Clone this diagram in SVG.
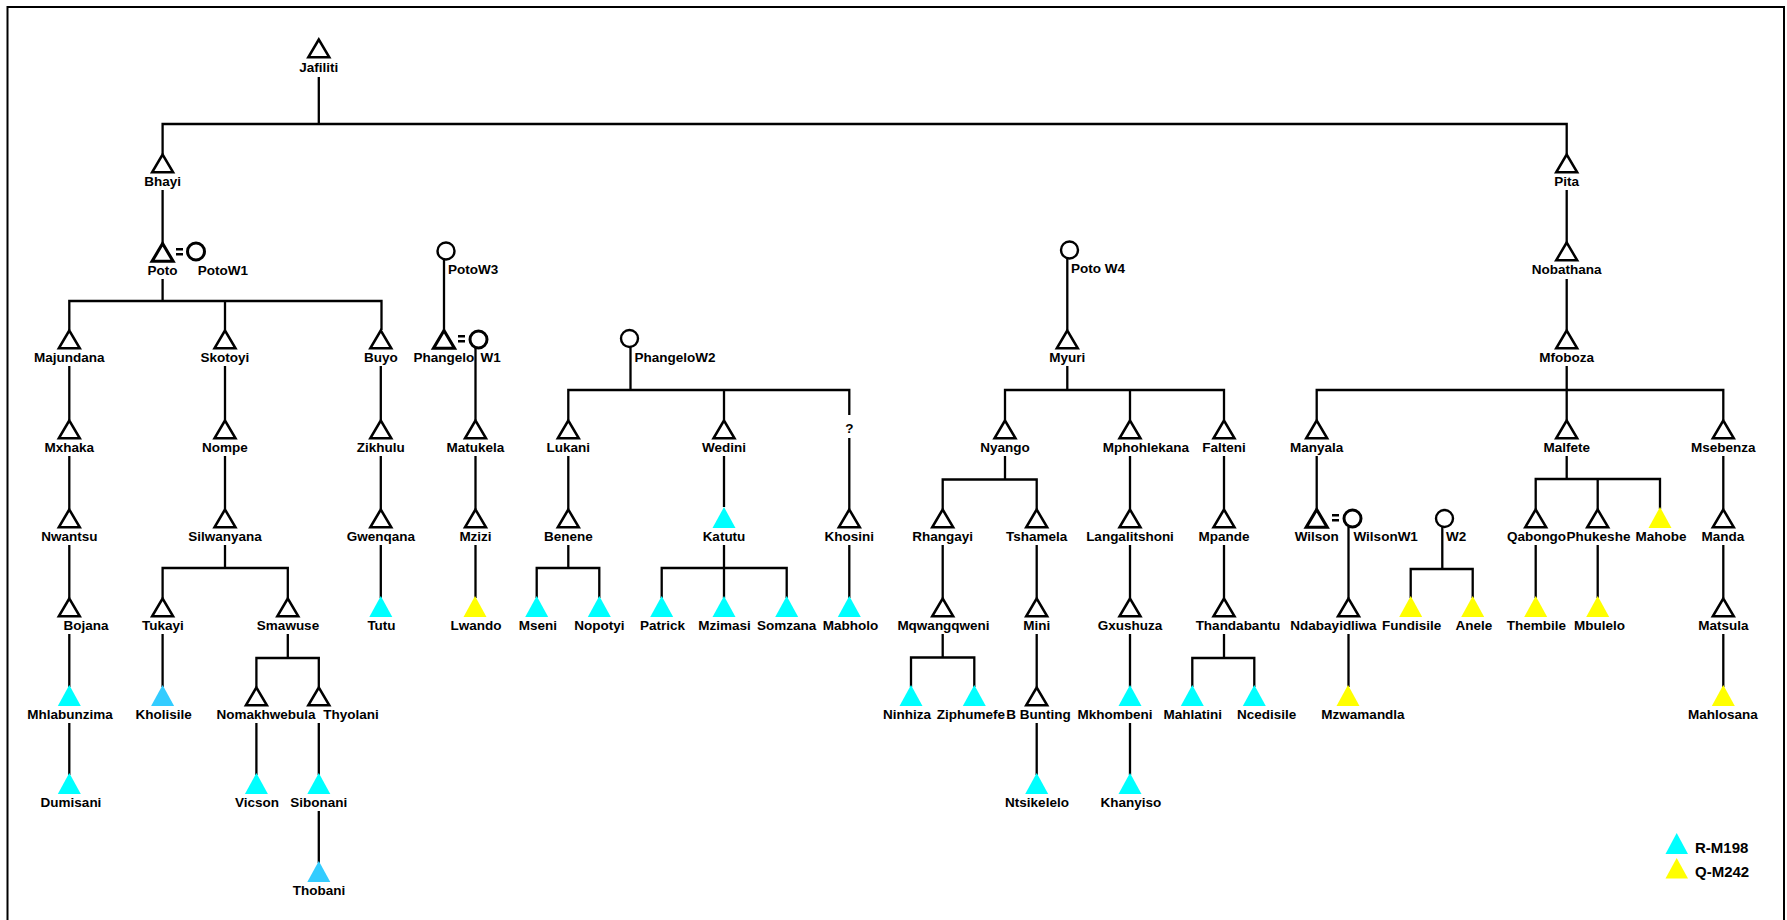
<svg xmlns="http://www.w3.org/2000/svg" xmlns:xlink="http://www.w3.org/1999/xlink" width="1787" height="920" viewBox="0 0 1787 920">
<style>
text{font-family:"Liberation Sans",Arial,sans-serif;font-weight:bold;font-size:13.5px;text-anchor:middle;fill:#000}
text.l{text-anchor:start}
text.lg{text-anchor:start;font-size:15px}
#connectors path{fill:none;stroke:#000;stroke-width:2.3}
.frame{fill:none;stroke:#000;stroke-width:2}
.c{fill:#00FFFF}.b{fill:#33CCFF}.y{fill:#FFFF00}
.eq{stroke:#000;stroke-width:2.4}
</style>
<defs>
<polygon id="tm" points="0,0.5 -10.5,18.3 10.5,18.3" fill="#fff" stroke="#000" stroke-width="2.5"/>
<polygon id="tb" points="0,0.5 -10.5,18.3 10.5,18.3" fill="#fff" stroke="#000" stroke-width="3.1"/>
<polygon id="tf" points="0,-2 -11.5,19 11.5,19"/>
<circle id="ci" r="8.5" fill="#fff" stroke="#000" stroke-width="2.4"/>
<circle id="cb" r="8.5" fill="#fff" stroke="#000" stroke-width="3"/>
</defs>
<rect width="1787" height="920" fill="#fff"/>
<path class="frame" d="M7.5,925 V7 H1784 V925"/>
<g id="connectors">
<path d="M318.8,77 V124 M162.6,154 V124 H1566.7 V154"/>
<path d="M162.6,190 V243 M1566.7,190 V243 M1566.7,279 V330"/>
<path d="M162.6,279 V301 M69.3,330 V301 H381.5 V330 M225,301 V330"/>
<path d="M444,260 V330"/>
<path d="M69.3,366 V420 M69.3,456 V509 M69.3,545 V598 M69.3,634 V687 M69.3,723 V775"/>
<path d="M225,366 V420 M225,456 V509 M225,545 V568 M162.6,598 V568 H287.8 V598"/>
<path d="M162.6,634 V687"/>
<path d="M287.8,634 V658 M256.4,687 V658 H318.8 V687"/>
<path d="M256.4,723 V775 M318.8,723 V775 M318.8,811 V863"/>
<path d="M380.8,366 V420 M380.8,456 V509 M380.8,545 V598"/>
<path d="M475.5,348 V420 M475.5,456 V509 M475.5,545 V598"/>
<path d="M630.5,347 V390 M568.3,420 V390 H849.3 V415 M724,390 V420"/>
<path d="M849.3,438 V509 M849.3,545 V598"/>
<path d="M568.3,456 V509 M568.3,545 V568 M536.7,598 V568 H599.3 V598"/>
<path d="M724,456 V507 M724,545 V598 M661.7,598 V568 H786.7 V598"/>
<path d="M1067.3,259 V330 M1067.3,366 V390 M1005,420 V390 H1224 V420 M1130,390 V420"/>
<path d="M1005,456 V479.5 M942.7,509 V479.5 H1036.7 V509"/>
<path d="M942.7,545 V598 M942.7,634 V657.5 M911,687 V657.5 H974.3 V687"/>
<path d="M1036.7,545 V598 M1036.7,634 V687 M1036.7,723 V775"/>
<path d="M1130,456 V509 M1130,545 V598 M1130,634 V687 M1130,723 V775"/>
<path d="M1224,456 V509 M1224,545 V598 M1224,634 V658 M1192.3,687 V658 H1254.3 V687"/>
<path d="M1566.7,366 V390 M1316.7,420 V390 H1723.3 V420 M1566.7,390 V420"/>
<path d="M1316.7,456 V509"/>
<path d="M1348.5,527 V598 M1348.5,634 V687"/>
<path d="M1442.3,527 V569 M1410.7,598 V569 H1472.7 V598"/>
<path d="M1566.7,456 V479 M1535.7,509 V479 H1660 V509 M1597.7,479 V509"/>
<path d="M1535.7,545 V598 M1597.7,545 V598"/>
<path d="M1723.3,456 V509 M1723.3,545 V598 M1723.3,634 V687"/>
</g>
<g id="n-Jafiliti"><use xlink:href="#tm" x="318.8" y="39"/><text x="318.8" y="72">Jafiliti</text></g>
<g id="n-Bhayi"><use xlink:href="#tm" x="162.6" y="154"/><text x="162.6" y="185.5">Bhayi</text></g>
<g id="n-Pita"><use xlink:href="#tm" x="1566.7" y="154"/><text x="1566.7" y="185.5">Pita</text></g>
<g id="n-Poto"><use xlink:href="#tb" x="162.6" y="243"/><text x="162.6" y="274.5">Poto</text>
<path class="eq" d="M176,249.3 H183 M176,254.2 H183"/></g>
<g id="n-PotoW1"><use xlink:href="#cb" x="196" y="251.5"/><text class="l" x="197.8" y="274.5">PotoW1</text></g>
<g id="n-PotoW3"><use xlink:href="#ci" x="446" y="251"/><text class="l" x="448" y="273.5">PotoW3</text></g>
<g id="n-PotoW4"><use xlink:href="#ci" x="1069.5" y="250"/><text class="l" x="1071" y="272.5">Poto W4</text></g>
<g id="n-Nobathana"><use xlink:href="#tm" x="1566.7" y="242"/><text x="1566.7" y="273.5">Nobathana</text></g>
<g id="n-Majundana"><use xlink:href="#tm" x="69.3" y="330"/><text x="69.3" y="361.5">Majundana</text></g>
<g id="n-Skotoyi"><use xlink:href="#tm" x="225" y="330"/><text x="225" y="361.5">Skotoyi</text></g>
<g id="n-Buyo"><use xlink:href="#tm" x="380.8" y="330"/><text x="380.8" y="361.5">Buyo</text></g>
<g id="n-Phangelo"><use xlink:href="#tb" x="444" y="330"/><text x="444" y="361.5">Phangelo</text>
<path class="eq" d="M458,336.3 H465 M458,341.2 H465"/></g>
<g id="n-PhangeloW1"><use xlink:href="#cb" x="478.5" y="339.5"/><text class="l" x="480.5" y="361.5">W1</text></g>
<g id="n-PhangeloW2"><use xlink:href="#ci" x="629.5" y="338.5"/><text class="l" x="634.5" y="361.5">PhangeloW2</text></g>
<g id="n-Myuri"><use xlink:href="#tm" x="1067.3" y="330"/><text x="1067.3" y="361.5">Myuri</text></g>
<g id="n-Mfoboza"><use xlink:href="#tm" x="1566.7" y="330"/><text x="1566.7" y="361.5">Mfoboza</text></g>
<g id="n-Mxhaka"><use xlink:href="#tm" x="69.3" y="420"/><text x="69.3" y="451.5">Mxhaka</text></g>
<g id="n-Nompe"><use xlink:href="#tm" x="225" y="420"/><text x="225" y="451.5">Nompe</text></g>
<g id="n-Zikhulu"><use xlink:href="#tm" x="380.8" y="420"/><text x="380.8" y="451.5">Zikhulu</text></g>
<g id="n-Matukela"><use xlink:href="#tm" x="475.5" y="420"/><text x="475.5" y="451.5">Matukela</text></g>
<g id="n-Lukani"><use xlink:href="#tm" x="568.3" y="420"/><text x="568.3" y="451.5">Lukani</text></g>
<g id="n-Wedini"><use xlink:href="#tm" x="724" y="420"/><text x="724" y="451.5">Wedini</text></g>
<g id="n-Unknown"><text x="849.3" y="432.5">?</text></g>
<g id="n-Nyango"><use xlink:href="#tm" x="1005" y="420"/><text x="1005" y="451.5">Nyango</text></g>
<g id="n-Mphohlekana"><use xlink:href="#tm" x="1130" y="420"/><text x="1146" y="451.5">Mphohlekana</text></g>
<g id="n-Falteni"><use xlink:href="#tm" x="1224" y="420"/><text x="1224" y="451.5">Falteni</text></g>
<g id="n-Manyala"><use xlink:href="#tm" x="1316.7" y="420"/><text x="1316.7" y="451.5">Manyala</text></g>
<g id="n-Malfete"><use xlink:href="#tm" x="1566.7" y="420"/><text x="1566.7" y="451.5">Malfete</text></g>
<g id="n-Msebenza"><use xlink:href="#tm" x="1723.3" y="420"/><text x="1723.3" y="451.5">Msebenza</text></g>
<g id="n-Nwantsu"><use xlink:href="#tm" x="69.3" y="509"/><text x="69.3" y="540.5">Nwantsu</text></g>
<g id="n-Silwanyana"><use xlink:href="#tm" x="225" y="509"/><text x="225" y="540.5">Silwanyana</text></g>
<g id="n-Gwenqana"><use xlink:href="#tm" x="380.8" y="509"/><text x="380.8" y="540.5">Gwenqana</text></g>
<g id="n-Mzizi"><use xlink:href="#tm" x="475.5" y="509"/><text x="475.5" y="540.5">Mzizi</text></g>
<g id="n-Benene"><use xlink:href="#tm" x="568.3" y="509"/><text x="568.3" y="540.5">Benene</text></g>
<g id="n-Katutu"><use xlink:href="#tf" class="c" x="724" y="509"/><text x="724" y="540.5">Katutu</text></g>
<g id="n-Khosini"><use xlink:href="#tm" x="849.3" y="509"/><text x="849.3" y="540.5">Khosini</text></g>
<g id="n-Rhangayi"><use xlink:href="#tm" x="942.7" y="509"/><text x="942.7" y="540.5">Rhangayi</text></g>
<g id="n-Tshamela"><use xlink:href="#tm" x="1036.7" y="509"/><text x="1036.7" y="540.5">Tshamela</text></g>
<g id="n-Langalitshoni"><use xlink:href="#tm" x="1130" y="509"/><text x="1130" y="540.5">Langalitshoni</text></g>
<g id="n-Mpande"><use xlink:href="#tm" x="1224" y="509"/><text x="1224" y="540.5">Mpande</text></g>
<g id="n-Wilson"><use xlink:href="#tb" x="1316.7" y="509"/><text x="1316.7" y="540.5">Wilson</text>
<path class="eq" d="M1332,515.3 H1339 M1332,520.2 H1339"/></g>
<g id="n-WilsonW1"><use xlink:href="#cb" x="1352.5" y="518.5"/><text class="l" x="1353.5" y="540.5">WilsonW1</text></g>
<g id="n-W2"><use xlink:href="#ci" x="1444.5" y="518.5"/><text class="l" x="1446" y="540.5">W2</text></g>
<g id="n-Qabongo"><use xlink:href="#tm" x="1535.7" y="509"/><text x="1536.5" y="540.5">Qabongo</text></g>
<g id="n-Phukeshe"><use xlink:href="#tm" x="1597.7" y="509"/><text x="1598.5" y="540.5">Phukeshe</text></g>
<g id="n-Mahobe"><use xlink:href="#tf" class="y" x="1660" y="509"/><text x="1661" y="540.5">Mahobe</text></g>
<g id="n-Manda"><use xlink:href="#tm" x="1723.3" y="509"/><text x="1723" y="540.5">Manda</text></g>
<g id="n-Bojana"><use xlink:href="#tm" x="69.3" y="598"/><text x="86" y="629.5">Bojana</text></g>
<g id="n-Tukayi"><use xlink:href="#tm" x="162.6" y="598"/><text x="163" y="629.5">Tukayi</text></g>
<g id="n-Smawuse"><use xlink:href="#tm" x="287.8" y="598"/><text x="288" y="629.5">Smawuse</text></g>
<g id="n-Tutu"><use xlink:href="#tf" class="c" x="380.8" y="598"/><text x="381.5" y="629.5">Tutu</text></g>
<g id="n-Lwando"><use xlink:href="#tf" class="y" x="475" y="598"/><text x="476" y="629.5">Lwando</text></g>
<g id="n-Mseni"><use xlink:href="#tf" class="c" x="536.7" y="598"/><text x="538" y="629.5">Mseni</text></g>
<g id="n-Nopotyi"><use xlink:href="#tf" class="c" x="599.3" y="598"/><text x="599.3" y="629.5">Nopotyi</text></g>
<g id="n-Patrick"><use xlink:href="#tf" class="c" x="661.7" y="598"/><text x="662.5" y="629.5">Patrick</text></g>
<g id="n-Mzimasi"><use xlink:href="#tf" class="c" x="724" y="598"/><text x="724.5" y="629.5">Mzimasi</text></g>
<g id="n-Somzana"><use xlink:href="#tf" class="c" x="786.7" y="598"/><text x="786.7" y="629.5">Somzana</text></g>
<g id="n-Mabholo"><use xlink:href="#tf" class="c" x="849.3" y="598"/><text x="850.5" y="629.5">Mabholo</text></g>
<g id="n-Mqwangqweni"><use xlink:href="#tm" x="942.7" y="598"/><text x="943.5" y="629.5">Mqwangqweni</text></g>
<g id="n-Mini"><use xlink:href="#tm" x="1036.7" y="598"/><text x="1036.7" y="629.5">Mini</text></g>
<g id="n-Gxushuza"><use xlink:href="#tm" x="1130" y="598"/><text x="1130" y="629.5">Gxushuza</text></g>
<g id="n-Thandabantu"><use xlink:href="#tm" x="1224" y="598"/><text x="1238" y="629.5">Thandabantu</text></g>
<g id="n-Ndabayidliwa"><use xlink:href="#tm" x="1348.5" y="598"/><text x="1333.5" y="629.5">Ndabayidliwa</text></g>
<g id="n-Fundisile"><use xlink:href="#tf" class="y" x="1410.7" y="598"/><text x="1411.7" y="629.5">Fundisile</text></g>
<g id="n-Anele"><use xlink:href="#tf" class="y" x="1472.7" y="598"/><text x="1474" y="629.5">Anele</text></g>
<g id="n-Thembile"><use xlink:href="#tf" class="y" x="1535.7" y="598"/><text x="1536.5" y="629.5">Thembile</text></g>
<g id="n-Mbulelo"><use xlink:href="#tf" class="y" x="1597.7" y="598"/><text x="1599.5" y="629.5">Mbulelo</text></g>
<g id="n-Matsula"><use xlink:href="#tm" x="1723.3" y="598"/><text x="1723.5" y="629.5">Matsula</text></g>
<g id="n-Mhlabunzima"><use xlink:href="#tf" class="c" x="69.3" y="687"/><text x="70" y="718.5">Mhlabunzima</text></g>
<g id="n-Kholisile"><use xlink:href="#tf" class="b" x="162.6" y="687"/><text x="163.6" y="718.5">Kholisile</text></g>
<g id="n-Nomakhwebula"><use xlink:href="#tm" x="256.4" y="687"/><text x="266" y="718.5">Nomakhwebula</text></g>
<g id="n-Thyolani"><use xlink:href="#tm" x="318.8" y="687"/><text x="351" y="718.5">Thyolani</text></g>
<g id="n-Ninhiza"><use xlink:href="#tf" class="c" x="911" y="687"/><text x="907" y="718.5">Ninhiza</text></g>
<g id="n-Ziphumefe"><use xlink:href="#tf" class="c" x="974.3" y="687"/><text x="971" y="718.5">Ziphumefe</text></g>
<g id="n-BBunting"><use xlink:href="#tm" x="1036.7" y="687"/><text x="1038.5" y="718.5">B Bunting</text></g>
<g id="n-Mkhombeni"><use xlink:href="#tf" class="c" x="1130" y="687"/><text x="1115" y="718.5">Mkhombeni</text></g>
<g id="n-Mahlatini"><use xlink:href="#tf" class="c" x="1192.3" y="687"/><text x="1192.8" y="718.5">Mahlatini</text></g>
<g id="n-Ncedisile"><use xlink:href="#tf" class="c" x="1254.3" y="687"/><text x="1266.7" y="718.5">Ncedisile</text></g>
<g id="n-Mzwamandla"><use xlink:href="#tf" class="y" x="1348" y="687"/><text x="1363" y="718.5">Mzwamandla</text></g>
<g id="n-Mahlosana"><use xlink:href="#tf" class="y" x="1723.3" y="687"/><text x="1723" y="718.5">Mahlosana</text></g>
<g id="n-Dumisani"><use xlink:href="#tf" class="c" x="69.3" y="775"/><text x="71" y="806.5">Dumisani</text></g>
<g id="n-Vicson"><use xlink:href="#tf" class="c" x="256.4" y="775"/><text x="257" y="806.5">Vicson</text></g>
<g id="n-Sibonani"><use xlink:href="#tf" class="c" x="318.8" y="775"/><text x="318.8" y="806.5">Sibonani</text></g>
<g id="n-Ntsikelelo"><use xlink:href="#tf" class="c" x="1036.7" y="775"/><text x="1037" y="806.5">Ntsikelelo</text></g>
<g id="n-Khanyiso"><use xlink:href="#tf" class="c" x="1130" y="775"/><text x="1130.8" y="806.5">Khanyiso</text></g>
<g id="n-Thobani"><use xlink:href="#tf" class="b" x="318.8" y="863"/><text x="319" y="894.5">Thobani</text></g>
<g id="legend">
<polygon class="c" points="1676.7,833 1665.5,854 1688,854"/>
<text class="lg" x="1695" y="853">R-M198</text>
<polygon class="y" points="1676.7,858 1665.5,878.5 1688,878.5"/>
<text class="lg" x="1695" y="876.5">Q-M242</text>
</g>
</svg>
